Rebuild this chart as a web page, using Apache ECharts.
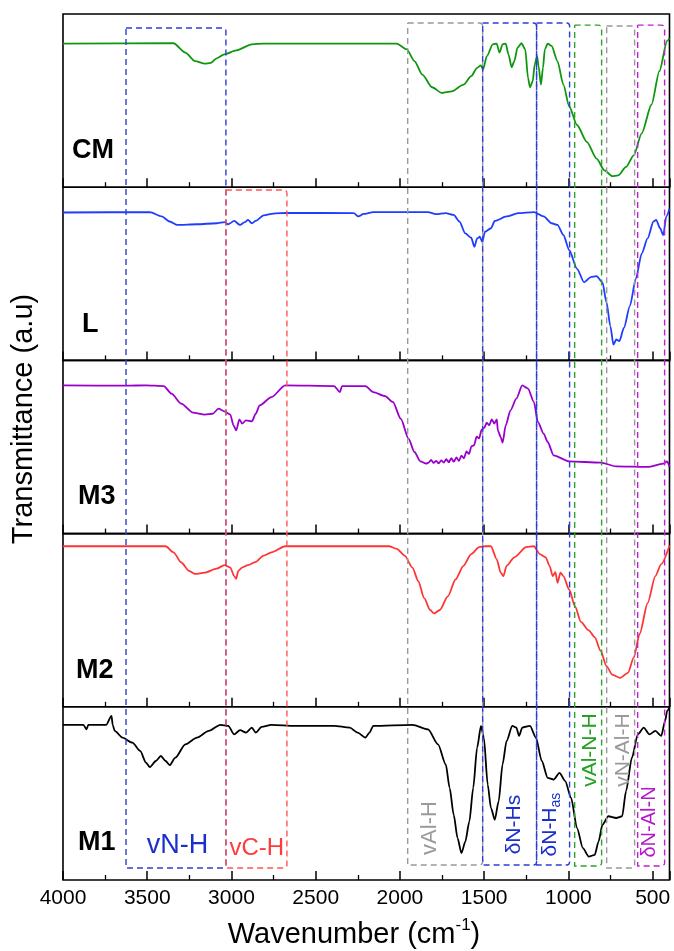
<!DOCTYPE html>
<html><head><meta charset="utf-8">
<script src="https://cdn.jsdelivr.net/npm/echarts@6/dist/echarts.min.js"></script>
<style>html,body{margin:0;padding:0;background:#fff}#c{width:674px;height:951px}</style>
</head><body><div id="c"></div><script>
// ---------- DATA ----------
const panelNames = ['CM', 'L', 'M3', 'M2', 'M1'];
const xTicks = [4000, 3500, 3000, 2500, 2000, 1500, 1000, 500];

const cmWn = [4000,3344,3274,3216,3158,3123,3088,3042,2972,2879,2809,2019,1960,1914,1867,1809,1751,1693,1623,1577,1542,1519,1507,1484,1449,1426,1409,1391,1372,1356,1337,1321,1302,1279,1256,1240,1228,1212,1200,1186,1177,1163,1151,1140,1123,1100,1065,1030,995,949,891,833,786,740,705,658,612,565,507,460,414,400];
const cmT  = [82.9,83.1,77.7,72.8,71.3,71.8,74.4,76.7,79.0,82.5,82.9,82.9,79.6,72.8,65.0,57.7,54.4,55.3,59.2,64.1,68.9,70.3,68.0,75.7,82.5,82.9,77.7,82.5,82.9,76.7,69.3,72.8,80.6,83.1,79.6,63.1,57.7,61.2,70.9,75.7,69.9,59.2,68.9,79.6,82.9,81.6,72.8,59.2,46.6,35.9,26.2,16.5,9.7,6.4,6.8,11.7,18.4,31.1,47.6,67.0,84.5,86.0];

const lWn = [4000,3484,3414,3367,3321,3205,3088,3042,3019,2984,2949,2921,2902,2879,2856,2809,2751,2670,2274,2247,2216,2158,1833,1786,1728,1681,1647,1612,1577,1558,1542,1526,1512,1495,1460,1437,1367,1298,1205,1147,1100,1065,1030,995,949,907,867,833,798,774,751,733,716,698,670,635,600,565,530,495,479,456,437,419,400];
const lT  = [85.4,85.6,83.1,80.2,78.2,78.6,79.2,79.8,78.6,80.5,78.2,79.8,81.1,79.2,80.5,83.7,84.8,85.2,85.0,83.1,84.6,85.6,85.6,84.4,85.0,84.0,80.2,73.3,70.8,65.6,70.4,71.4,68.5,74.3,76.3,80.5,83.1,85.0,85.6,83.1,79.2,78.2,72.4,63.6,52.9,45.1,48.1,48.6,45.1,33.5,19.8,9.1,12.1,11.1,18.9,31.5,47.1,61.7,70.4,80.2,81.1,76.3,72.4,83.1,87.5];

const m3Wn = [4000,3623,3507,3402,3356,3298,3228,3158,3112,3077,3042,3007,2988,2972,2953,2937,2914,2879,2856,2833,2763,2681,2391,2356,2344,2205,2158,2088,2042,1995,1949,1914,1879,1844,1830,1815,1800,1785,1770,1755,1740,1725,1710,1695,1680,1665,1650,1635,1620,1605,1590,1575,1560,1545,1530,1515,1500,1485,1470,1455,1440,1425,1419,1402,1391,1372,1344,1309,1274,1240,1205,1181,1147,1123,1088,995,809,716,530,437,414,400];
const m3T  = [85.6,85.4,85.6,85.2,80.8,75.0,69.8,68.7,69.2,72.1,70.6,68.7,62.5,59.6,66.0,63.5,65.4,64.8,69.2,74.0,78.8,85.6,85.2,81.7,85.2,85.2,81.7,79.4,76.0,66.3,54.8,47.1,41.7,40.4,41.0,42.5,40.8,42.0,40.5,42.3,41.0,43.0,41.2,43.5,41.5,44.0,42.0,45.0,43.5,47.5,46.0,50.5,51.0,56.0,55.0,60.0,61.0,64.0,62.5,66.0,63.5,66.0,59.6,55.8,52.5,62.5,71.2,77.9,85.6,83.7,76.0,64.4,57.7,52.9,45.2,41.7,41.0,38.8,38.5,40.4,41.7,38.5];

const m2Wn = [4000,3391,3344,3298,3251,3216,3158,3088,3042,3007,2984,2972,2960,2937,2902,2856,2809,2763,2681,2065,2019,1972,1926,1891,1856,1821,1798,1763,1716,1670,1623,1577,1530,1495,1460,1426,1402,1386,1367,1321,1251,1205,1170,1135,1112,1093,1077,1065,1047,1030,995,960,926,879,844,809,774,740,693,647,612,577,530,484,449,400];
const m2T  = [92.7,92.7,89.2,83.3,78.4,76.7,77.5,79.8,81.8,80.4,75.5,73.9,78.4,80.4,81.8,83.7,87.3,89.2,92.7,92.7,91.2,87.3,80.4,72.5,62.7,55.9,53.9,55.9,63.7,73.5,81.4,88.2,92.2,92.7,92.7,85.3,77.5,75.5,81.4,86.3,92.2,92.7,88.2,86.3,81.4,75.5,77.8,71.6,77.5,75.5,67.6,57.8,49.0,44.1,40.2,32.4,23.5,18.6,16.7,19.6,28.4,42.2,59.8,75.5,82.4,93.1];

const m1Wn = [4000,3879,3860,3850,3744,3712,3705,3693,3647,3588,3542,3507,3484,3449,3419,3391,3367,3333,3274,3205,3135,3065,3019,2984,2949,2914,2879,2856,2821,2763,2623,2391,2298,2251,2205,2181,2158,1926,1833,1774,1728,1705,1681,1658,1635,1612,1588,1565,1542,1519,1502,1479,1460,1437,1414,1391,1367,1333,1309,1293,1274,1228,1193,1158,1123,1088,1053,1019,984,949,914,879,844,821,798,763,716,681,658,623,588,553,519,484,449,426,414,400];
const m1T  = [89.6,89.6,87.0,89.6,89.6,94.8,89.6,86.1,82.2,79.3,74.5,67.7,65.2,68.7,71.6,68.7,66.3,70.6,78.3,82.2,86.1,89.6,89.0,84.1,86.5,85.1,88.0,85.1,88.4,89.6,89.0,89.0,88.0,85.1,82.2,85.1,89.0,89.6,87.0,78.3,66.7,53.2,37.7,24.2,15.5,22.2,33.8,53.2,76.4,89.0,82.2,55.1,41.6,34.8,45.5,66.7,80.3,89.0,88.0,83.2,88.0,89.0,82.2,68.7,59.0,58.0,61.9,57.1,47.4,30.0,18.4,13.5,14.5,22.2,31.9,36.8,35.8,36.8,51.3,70.6,84.1,88.0,84.1,86.1,83.2,91.9,97.7,99.6];

// assignment bands (wavenumber ranges)
const bandLabels = ['vN-H', 'vC-H', 'vAl-H', 'δN-Hs', 'δN-H_as', 'vAl-N-H', 'vN-Al-H', 'δN-Al-N'];
const bandFrom   = [3626, 3033, 1954, 1509, 1189, 963, 773, 589];
const bandTo     = [3033, 2671, 1509, 1189, 993, 803, 607, 429];

// ---------- LAYOUT / STYLE ----------
const LEFT = 63, RIGHT = 4.5, TOP = 14, PH = 173.2;
const FONT = '"Liberation Sans", Arial, Helvetica, sans-serif';
const seriesColors = ['#0f960f', '#1f3cff', '#9a00cc', '#ff3535', '#000000'];
const seriesWn = [cmWn, lWn, m3Wn, m2Wn, m1Wn];
const seriesT  = [cmT, lT, m3T, m2T, m1T];
const labelLeft = [72, 82, 78, 76, 78];
const labelCY   = [152, 326, 498, 672, 844];
// band box vertical extent (in panel units, 0 = top of CM, 5 = bottom of M1) & label placement
const bandStyle = [
  {c:'#2b3fd6', tc:'#1a2fcc', top:0.081, bot:4.931, lx:3320, ly:4.80, rot:0, fs:27},
  {c:'#ff5555', tc:'#ff3b3b', top:1.016, bot:4.931, lx:2850, ly:4.815, rot:0, fs:24},
  {c:'#999999', tc:'#9a9a9a', top:0.052, bot:4.913, lx:1822, ly:4.70, rot:1, fs:22},
  {c:'#2b3fd6', tc:'#1a2fcc', top:0.052, bot:4.913, lx:1323, ly:4.68, rot:1, fs:21},
  {c:'#2b3fd6', tc:'#1a2fcc', top:0.052, bot:4.913, lx:1109, ly:4.68, rot:1, fs:21},
  {c:'#2ea02e', tc:'#22a022', top:0.064, bot:4.919, lx:872, ly:4.25, rot:1, fs:21},
  {c:'#999999', tc:'#9a9a9a', top:0.069, bot:4.931, lx:676, ly:4.25, rot:1, fs:21},
  {c:'#c020d0', tc:'#b518c8', top:0.064, bot:4.919, lx:516, ly:4.665, rot:1, fs:20}
];

const grids = [], xAxes = [], yAxes = [], series = [];
for (let i = 0; i < 5; i++) {
  grids.push({left: LEFT, right: RIGHT, top: TOP + i * PH, height: PH, show: true,
    borderColor: '#000', borderWidth: 1.6, backgroundColor: 'transparent', containLabel: false});
  xAxes.push({gridIndex: i, type: 'value', min: -4000, max: -400, interval: 500,
    axisLine: {show: false},
    axisTick: {show: true, inside: true, length: 9, lineStyle: {color: '#000', width: 1.5}},
    minorTick: {show: true, splitNumber: 2, length: 5, lineStyle: {color: '#000', width: 1.3}},
    splitLine: {show: false}, minorSplitLine: {show: false},
    axisLabel: {show: i === 4, showMaxLabel: false, margin: 8, color: '#000', fontSize: 21, fontFamily: FONT,
      formatter: v => xTicks.indexOf(-v) >= 0 ? String(-v) : ''}});
  yAxes.push({gridIndex: i, type: 'value', min: 0, max: 100, show: false});
  series.push({type: 'line', xAxisIndex: i, yAxisIndex: i, showSymbol: false, symbol: 'none',
    smooth: 0.25, smoothMonotone: 'x',
    lineStyle: {color: seriesColors[i], width: 1.8}, silent: true,
    data: seriesWn[i].map((w, k) => [-w, seriesT[i][k]])});
}
// overlay grid for assignment boxes
grids.push({left: LEFT, right: RIGHT, top: TOP, height: PH * 5, show: false});
xAxes.push({gridIndex: 5, type: 'value', min: -4000, max: -400, show: false});
yAxes.push({gridIndex: 5, type: 'value', min: 0, max: 5, inverse: true, show: false});

series.push({
  type: 'custom', xAxisIndex: 5, yAxisIndex: 5, silent: true, z: 5,
  data: bandLabels.map((n, i) => [bandFrom[i], bandTo[i], i]),
  renderItem: function (params, api) {
    const i = api.value(2);
    const st = bandStyle[i];
    const p1 = api.coord([-bandFrom[i], st.top]);
    const p2 = api.coord([-bandTo[i], st.bot]);
    const lp = api.coord([-st.lx, st.ly]);
    const children = [{
      type: 'rect',
      shape: {x: p1[0], y: p1[1], width: p2[0] - p1[0], height: p2[1] - p1[1], r: [0, 3, 3, 0]},
      style: {fill: 'none', stroke: st.c, lineWidth: 1.4, lineDash: [6, 4]}
    }];
    const name = bandLabels[i];
    let textStyle;
    if (name.indexOf('_') >= 0) {
      const parts = name.split('_');
      textStyle = {
        text: '{a|' + parts[0] + '}{b|' + parts[1] + '}',
        rich: {
          a: {fontSize: st.fs, fontFamily: FONT, fill: st.tc, lineHeight: 26, verticalAlign: 'middle'},
          b: {fontSize: 14, fontFamily: FONT, fill: st.tc, lineHeight: 14, verticalAlign: 'bottom'}
        },
        align: 'center', verticalAlign: 'middle'
      };
    } else {
      textStyle = {text: name, fontSize: st.fs, fontFamily: FONT, fill: st.tc,
        align: 'center', verticalAlign: 'middle'};
    }
    children.push({type: 'text', x: lp[0], y: lp[1], rotation: st.rot ? Math.PI / 2 : 0, style: textStyle});
    return {type: 'group', children: children};
  }
});

const graphics = [];
for (let i = 0; i < 5; i++) {
  graphics.push({type: 'text', left: labelLeft[i], top: labelCY[i] - 15, z: 10,
    style: {text: panelNames[i], fontSize: 27, fontWeight: 'bold', fontFamily: FONT, fill: '#000'}});
}
graphics.push({type: 'text', x: 24, y: 419, rotation: Math.PI / 2, z: 10,
  style: {text: 'Transmittance (a.u)', fontSize: 29, fontFamily: FONT, fill: '#000',
    align: 'center', verticalAlign: 'middle'}});
graphics.push({type: 'text', x: 354, y: 933, z: 10,
  style: {text: '{a|Wavenumber (cm}{s|-1}{a|)}', align: 'center', verticalAlign: 'middle',
    rich: {a: {fontSize: 29, fontFamily: FONT, fill: '#000', lineHeight: 32, verticalAlign: 'bottom'},
           s: {fontSize: 17, fontFamily: FONT, fill: '#000', lineHeight: 32, verticalAlign: 'top'}}}});

const chart = echarts.init(document.getElementById('c'), null, {renderer: 'canvas'});
chart.setOption({
  animation: false, backgroundColor: '#fff',
  grid: grids, xAxis: xAxes, yAxis: yAxes, series: series, graphic: graphics
});
</script></body></html>
